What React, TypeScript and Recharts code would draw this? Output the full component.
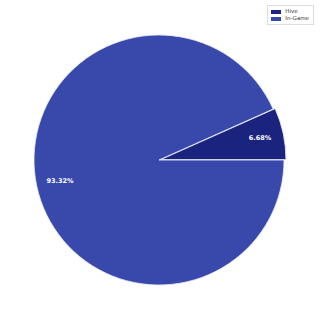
import { PieChart, Pie, Cell } from 'recharts';

const labels = ['Hive', 'In-Game'];
const shares = [6.68, 93.32];
const colors = ['#1a237e', '#3949ab'];

const data = labels.map((name, i) => ({ name, value: shares[i] }));

const RAD = Math.PI / 180;

function makeLabel(show: number) {
  return (props: any) => {
    const { cx, cy, midAngle, outerRadius, index, value } = props;
    if (index !== show) return null;
    const r = outerRadius * 0.81;
    const x = cx + r * Math.cos(-midAngle * RAD);
    const y = cy + r * Math.sin(-midAngle * RAD);
    return (
      <text x={x} y={y} fill="#ffffff" fontSize={6.5} fontWeight="bold" textAnchor="middle" dominantBaseline="central"
        fontFamily="DejaVu Sans">
        {`${value.toFixed(2)}%`}
      </text>
    );
  };
}

function LegendBox() {
  return (
    <div style={{ position: 'absolute', top: 5, right: 6, border: '1px solid #dddddd', background: '#fff', padding: '2px 4px 2px 3px', fontFamily: 'DejaVu Sans', fontSize: 5.5, color: '#333', lineHeight: '7px' }}>
      {labels.map((l, i) => (
        <div key={l} style={{ display: 'flex', alignItems: 'center' }}>
          <span style={{ display: 'inline-block', width: 10, height: 4, background: colors[i], marginRight: 4 }} />
          {l}
        </div>
      ))}
    </div>
  );
}

export default function App() {
  const mid = (shares[0] / 100) * 180;
  const off = 2;
  return (
    <div style={{ position: 'fixed', left: 0, top: 0, width: 320, height: 320, background: '#fff' }}>
      <PieChart width={320} height={320} margin={{ top: 0, right: 0, bottom: 0, left: 0 }}>
        <Pie data={data} dataKey="value" cx={159} cy={160} outerRadius={125} startAngle={0} endAngle={360}
          stroke="#ffffff" strokeWidth={0.8} isAnimationActive={false} labelLine={false} label={makeLabel(1)}>
          {data.map((d, i) => (
            <Cell key={d.name} fill={i === 1 ? colors[i] : 'transparent'} stroke={i === 1 ? '#e8eaf6' : 'none'} />
          ))}
        </Pie>
        <Pie data={data} dataKey="value" cx={159 + off * Math.cos(mid * RAD)} cy={160 - off * Math.sin(mid * RAD)}
          outerRadius={125} startAngle={0} endAngle={360} stroke="#ffffff" strokeWidth={0.8}
          isAnimationActive={false} labelLine={false} label={makeLabel(0)}>
          {data.map((d, i) => (
            <Cell key={d.name} fill={i === 0 ? colors[i] : 'transparent'} stroke={i === 0 ? '#e8eaf6' : 'none'} />
          ))}
        </Pie>
      </PieChart>
      <LegendBox />
    </div>
  );
}
